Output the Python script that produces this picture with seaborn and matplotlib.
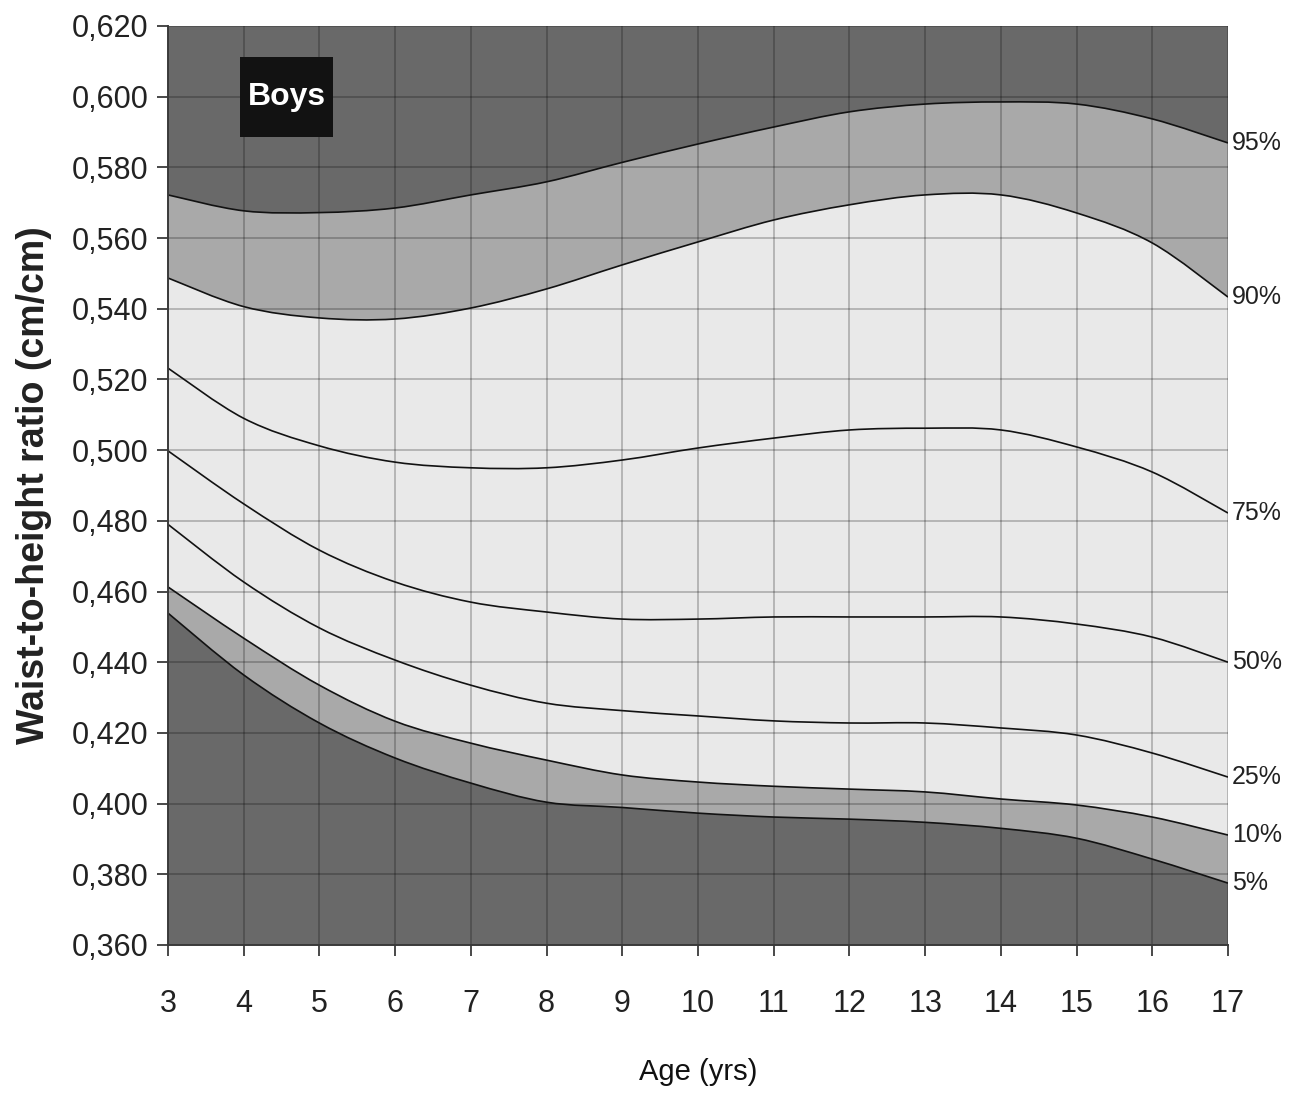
import numpy as np
import pandas as pd
import seaborn as sns
import matplotlib
matplotlib.use("Agg")
import matplotlib.pyplot as plt
from matplotlib.path import Path
from matplotlib.patches import PathPatch, Rectangle
from matplotlib.ticker import FixedLocator, FuncFormatter

# Waist-to-height ratio percentiles for boys, by age
ages = [3, 4, 5, 6, 7, 8, 9, 10, 11, 12, 13, 14, 15, 16, 17]
p95 = [0.5722, 0.5677, 0.5672, 0.5685, 0.5722, 0.5759, 0.5814, 0.5866, 0.5914, 0.5957, 0.5979, 0.5985, 0.5979, 0.5937, 0.5869]
p90 = [0.5487, 0.5406, 0.5374, 0.5371, 0.5402, 0.5456, 0.5524, 0.5589, 0.5651, 0.5694, 0.5722, 0.5722, 0.5671, 0.5586, 0.5433]
p75 = [0.5232, 0.5090, 0.5012, 0.4966, 0.4950, 0.4950, 0.4972, 0.5006, 0.5034, 0.5057, 0.5062, 0.5057, 0.5009, 0.4938, 0.4822]
p50 = [0.4998, 0.4848, 0.4717, 0.4627, 0.4570, 0.4542, 0.4522, 0.4522, 0.4528, 0.4528, 0.4528, 0.4528, 0.4508, 0.4471, 0.4400]
p25 = [0.4790, 0.4627, 0.4497, 0.4406, 0.4335, 0.4284, 0.4263, 0.4248, 0.4234, 0.4228, 0.4228, 0.4214, 0.4194, 0.4143, 0.4075]
p10 = [0.4613, 0.4468, 0.4335, 0.4233, 0.4171, 0.4123, 0.4081, 0.4061, 0.4049, 0.4041, 0.4033, 0.4013, 0.3996, 0.3962, 0.3911]
p5 = [0.4539, 0.4364, 0.4228, 0.4129, 0.4058, 0.4004, 0.3989, 0.3973, 0.3962, 0.3956, 0.3947, 0.3930, 0.3902, 0.3843, 0.3775]

percentile_labels = ["95%", "90%", "75%", "50%", "25%", "10%", "5%"]
y_ticks = [0.360, 0.380, 0.400, 0.420, 0.440, 0.460, 0.480, 0.500,
           0.520, 0.540, 0.560, 0.580, 0.600, 0.620]
x_ticks = ages

df = pd.DataFrame({"age": ages, "p95": p95, "p90": p90, "p75": p75,
                   "p50": p50, "p25": p25, "p10": p10, "p5": p5})
series = ["p95", "p90", "p75", "p50", "p25", "p10", "p5"]

sns.set_theme(style="white")
plt.rcParams["font.family"] = ["Liberation Sans", "DejaVu Sans"]

DARK = "#696969"
MID = "#a9a9a9"
LIGHT = "#e9e9e9"
INK = "#121212"


def smooth_vertices(x, y):
    """Cubic Bezier vertices through the points (Catmull-Rom tangents)."""
    n = len(x)
    verts = [(x[0], y[0])]
    codes = [Path.MOVETO]
    for i in range(n - 1):
        a = i - 1 if i > 0 else i
        d = i + 2 if i + 2 < n else i + 1
        c1 = (x[i] + (x[i + 1] - x[a]) / 6.0, y[i] + (y[i + 1] - y[a]) / 6.0)
        c2 = (x[i + 1] - (x[d] - x[i]) / 6.0, y[i + 1] - (y[d] - y[i]) / 6.0)
        verts += [c1, c2, (x[i + 1], y[i + 1])]
        codes += [Path.CURVE4] * 3
    return verts, codes


def band_path(x, upper, lower):
    uv, uc = smooth_vertices(x, upper)
    lv, lc = smooth_vertices(x, lower)
    lv = lv[::-1]
    verts = uv + lv + [uv[0]]
    codes = uc + [Path.LINETO] + [Path.CURVE4] * (len(lv) - 1) + [Path.CLOSEPOLY]
    return Path(verts, codes)


fig = plt.figure(figsize=(12.91, 10.95), dpi=100)
ax = fig.add_axes([0.1301, 0.137, 0.8211, 0.8393])
ax.set_facecolor(DARK)

x = df["age"].to_numpy(dtype=float)

# shaded percentile bands
for up, lo, col in [("p90", "p10", LIGHT), ("p95", "p90", MID), ("p10", "p5", MID)]:
    ax.add_patch(PathPatch(band_path(x, df[up].to_numpy(), df[lo].to_numpy()),
                           facecolor=col, edgecolor="none", zorder=1))

# percentile curves
for s in series:
    v, c = smooth_vertices(x, df[s].to_numpy())
    ax.add_patch(PathPatch(Path(v, c), facecolor="none", edgecolor=INK,
                           lw=1.2, zorder=3, capstyle="butt"))

# curve labels at the right end
for s, lab in zip(series, percentile_labels):
    ax.annotate(lab, xy=(x[-1], df[s].iloc[-1]), xytext=(3, 0),
                textcoords="offset points", ha="left", va="center",
                fontsize=18, color="#222222", annotation_clip=False)

ax.set_xlim(3, 17)
ax.set_ylim(0.36, 0.62)
ax.xaxis.set_major_locator(FixedLocator(x_ticks))
ax.yaxis.set_major_locator(FixedLocator(y_ticks))
ax.yaxis.set_major_formatter(FuncFormatter(lambda v, p: f"{v:.3f}".replace(".", ",")))
ax.xaxis.set_major_formatter(FuncFormatter(lambda v, p: f"{int(round(v))}"))

ax.set_axisbelow(False)
ax.grid(True, color="black", alpha=0.22, lw=1.4)
for gl in ax.get_xgridlines() + ax.get_ygridlines():
    gl.set_zorder(2)

sns.despine(ax=ax, top=True, right=True)
for side in ["left", "bottom"]:
    ax.spines[side].set_color("#3a3a3a")
    ax.spines[side].set_linewidth(1.4)
    ax.spines[side].set_zorder(4)

ax.tick_params(axis="both", which="major", direction="out", length=8,
               width=1.3, color="#3a3a3a", labelsize=22, labelcolor="#222222",
               bottom=True, left=True)
ax.tick_params(axis="x", pad=24)
ax.tick_params(axis="y", pad=6)

ax.set_xlabel("Age (yrs)", fontsize=21, color="#111111", labelpad=28)
ax.set_ylabel("Waist-to-height ratio (cm/cm)", fontsize=27, fontweight="bold",
              color="#222222", labelpad=14)

# "Boys" tag in the upper left corner
ax.add_patch(Rectangle((0.0679, 0.8792), 0.0877, 0.0871, transform=ax.transAxes,
                       facecolor="#121212", edgecolor="none", zorder=6))
ax.text(0.1118, 0.9227, "Boys", transform=ax.transAxes, ha="center", va="center",
        fontsize=23, fontweight="bold", color="white", zorder=7)

fig.savefig("out.png", dpi=100)
